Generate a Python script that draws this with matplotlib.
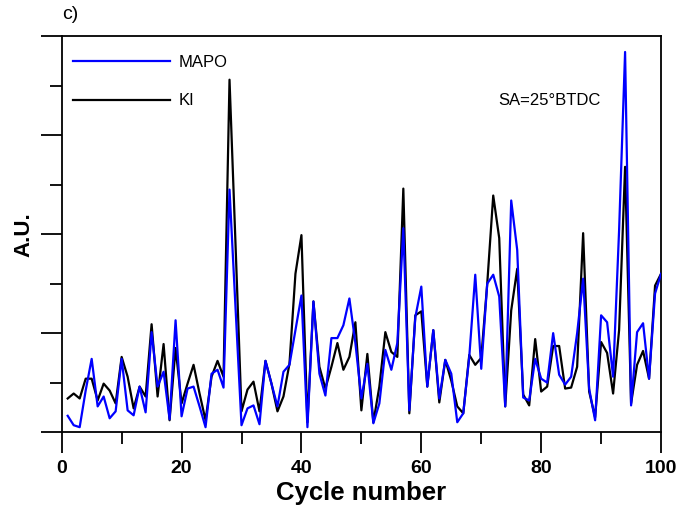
import matplotlib
matplotlib.use("Agg")
import matplotlib.pyplot as plt
from matplotlib.ticker import MultipleLocator, NullFormatter

plt.rcParams['font.family'] = ['Liberation Sans', 'DejaVu Sans']

cycles = list(range(1, 101))

mapo = [0.165, 0.07, 0.05, 0.42, 0.74, 0.26, 0.36, 0.14, 0.21, 0.74,
        0.22, 0.17, 0.46, 0.20, 1.01, 0.46, 0.61, 0.13, 1.13, 0.16,
        0.44, 0.46, 0.26, 0.05, 0.59, 0.63, 0.45, 2.45, 1.26, 0.07,
        0.24, 0.27, 0.08, 0.72, 0.49, 0.26, 0.61, 0.68, 1.03, 1.38,
        0.05, 1.32, 0.59, 0.37, 0.95, 0.95, 1.08, 1.35, 0.90, 0.34,
        0.69, 0.09, 0.29, 0.83, 0.63, 0.90, 2.06, 0.22, 1.16, 1.47,
        0.46, 1.03, 0.34, 0.73, 0.59, 0.10, 0.19, 0.76, 1.59, 0.64,
        1.50, 1.59, 1.37, 0.26, 2.34, 1.84, 0.35, 0.32, 0.74, 0.54,
        0.50, 1.00, 0.58, 0.48, 0.56, 1.00, 1.55, 0.44, 0.12, 1.18,
        1.11, 0.56, 2.04, 3.84, 0.27, 1.01, 1.10, 0.54, 1.40, 1.60]

ki = [0.34, 0.39, 0.34, 0.54, 0.54, 0.32, 0.49, 0.42, 0.29, 0.76,
      0.56, 0.24, 0.46, 0.36, 1.09, 0.36, 0.89, 0.12, 0.85, 0.29,
      0.49, 0.68, 0.39, 0.12, 0.56, 0.72, 0.56, 3.56, 1.90, 0.21,
      0.43, 0.51, 0.21, 0.72, 0.49, 0.21, 0.36, 0.69, 1.60, 1.99,
      0.10, 1.32, 0.66, 0.44, 0.66, 0.90, 0.63, 0.76, 1.11, 0.22,
      0.79, 0.10, 0.46, 1.01, 0.81, 0.76, 2.46, 0.19, 1.18, 1.22,
      0.46, 1.03, 0.30, 0.73, 0.52, 0.26, 0.19, 0.78, 0.68, 0.75,
      1.50, 2.39, 1.96, 0.26, 1.23, 1.65, 0.38, 0.27, 0.94, 0.41,
      0.46, 0.87, 0.87, 0.44, 0.45, 0.66, 2.01, 0.41, 0.15, 0.91,
      0.80, 0.39, 1.03, 2.68, 0.29, 0.68, 0.82, 0.54, 1.48, 1.60]

fig = plt.figure(figsize=(6.78, 5.09), dpi=100)
ax = fig.add_axes([0.091, 0.151, 0.884, 0.778])

l2, = ax.plot(cycles, ki, color='black', lw=1.6, zorder=2)
l1, = ax.plot(cycles, mapo, color='#0000ff', lw=1.6, zorder=3)

ax.set_xlim(0, 100)
ax.set_ylim(0, 4)
ax.xaxis.set_major_locator(MultipleLocator(20))
ax.xaxis.set_minor_locator(MultipleLocator(10))
ax.yaxis.set_major_locator(MultipleLocator(1))
ax.yaxis.set_minor_locator(MultipleLocator(0.5))
ax.yaxis.set_major_formatter(NullFormatter())
ax.tick_params(which='major', direction='out', length=15, width=1.3)
ax.tick_params(which='minor', direction='out', length=8.5, width=1.3)
ax.tick_params(axis='x', which='major', pad=5)
for lab in ax.get_xticklabels():
    lab.set_fontsize(14)
    lab.set_fontweight('bold')
for sp in ax.spines.values():
    sp.set_linewidth(1.3)

ax.set_xlabel('Cycle number', fontsize=18.5, fontweight='bold', labelpad=3)
ax.set_ylabel('A.U.', fontsize=16, fontweight='bold')
ax.yaxis.set_label_coords(-0.045, 0.5)

ax.legend([l1, l2], ['MAPO', 'KI'], loc='upper left', bbox_to_anchor=(0.019, 0.952),
          frameon=False, fontsize=12, handlelength=5.8, handletextpad=0.55,
          labelspacing=1.4, borderpad=0, borderaxespad=0)

ax.text(0.728, 0.837, 'SA=25°BTDC', transform=ax.transAxes, fontsize=12,
        va='center', ha='left')
fig.text(0.091, 0.972, 'c)', fontsize=14, va='center', ha='left')

fig.savefig('out.png', dpi=100)
